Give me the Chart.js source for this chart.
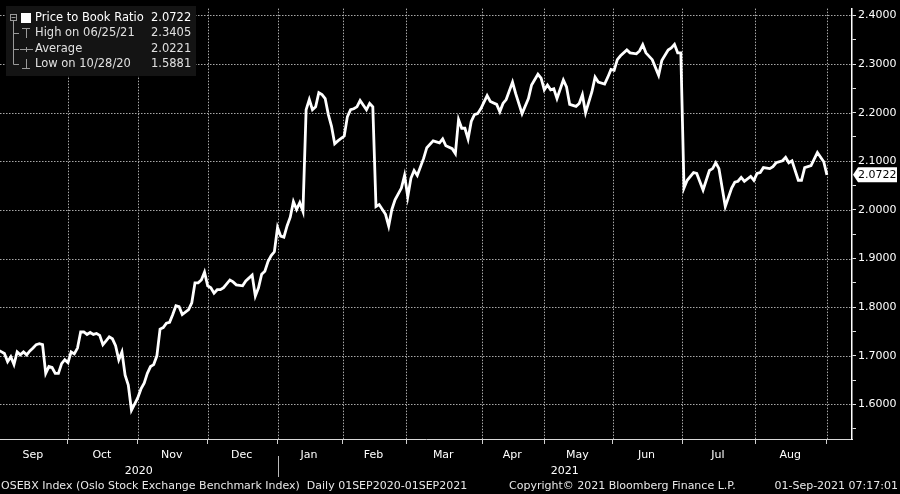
<!DOCTYPE html>
<html>
<head>
<meta charset="utf-8">
<script src="https://cdn.jsdelivr.net/npm/chart.js@4.4.1/dist/chart.umd.min.js"></script>
<style>
  html, body { margin: 0; padding: 0; background: #000; }
  #wrap { width: 900px; height: 494px; position: relative; }
</style>
</head>
<body>
<div id="wrap"><canvas id="pbChart"></canvas></div>
<script>
// trading-day index counted from 01 Sep 2020, and the OSEBX price to book ratio on that day
const tradingDay = [
  0, 2, 3, 4, 5, 6, 7, 8, 9, 10, 11, 12, 13, 14, 15, 16, 17, 18, 19, 20,
  21, 22, 23, 24, 25, 26, 27, 28, 29, 30, 31, 32, 33, 34, 35, 36, 37, 38, 39, 40,
  41, 42, 44, 45, 46, 47, 48, 49, 50, 51, 52, 53, 54, 55, 56, 57, 58, 60, 61, 62,
  63, 64, 65, 66, 67, 68, 69, 70, 71, 73, 74, 75, 77, 78, 80, 81, 82, 83, 84, 85,
  86, 87, 88, 89, 90, 91, 92, 93, 94, 95, 96, 97, 98, 99, 100, 101, 102, 103, 104, 105,
  106, 107, 109, 110, 111, 112, 113, 114, 116, 117, 118, 119, 120, 122, 123, 124, 125, 127, 128, 129,
  130, 131, 132, 134, 135, 137, 139, 140, 141, 143, 144, 145, 146, 147, 148, 149, 150, 151, 152, 154,
  155, 157, 158, 159, 160, 162, 163, 165, 167, 168, 170, 171, 172, 173, 174, 175, 176, 178, 179, 180,
  182, 183, 184, 185, 187, 188, 189, 191, 192, 193, 194, 195, 196, 198, 199, 201, 202, 203, 204, 206,
  208, 209, 211, 212, 213, 214, 215, 216, 217, 219, 220, 222, 224, 225, 226, 227, 229, 231, 232, 233,
  234, 235, 237, 238, 239, 240, 241, 243, 244, 245, 247, 248, 249, 250, 252, 253, 254, 256, 258, 260,
  261
];
const priceToBook = [
  1.712, 1.705, 1.688, 1.698, 1.682, 1.708, 1.702, 1.708, 1.702, 1.710, 1.716, 1.723, 1.725, 1.723, 1.664, 1.678, 1.676, 1.664, 1.664, 1.684,
  1.692, 1.686, 1.708, 1.704, 1.716, 1.749, 1.749, 1.744, 1.748, 1.744, 1.746, 1.742, 1.723, 1.731, 1.739, 1.735, 1.721, 1.692, 1.708, 1.660,
  1.640, 1.5881, 1.614, 1.632, 1.644, 1.664, 1.678, 1.682, 1.700, 1.755, 1.758, 1.767, 1.769, 1.785, 1.803, 1.801, 1.785, 1.795, 1.809, 1.850,
  1.850, 1.856, 1.872, 1.844, 1.840, 1.829, 1.836, 1.836, 1.840, 1.856, 1.852, 1.846, 1.844, 1.854, 1.866, 1.823, 1.840, 1.868, 1.874, 1.894,
  1.906, 1.914, 1.964, 1.946, 1.944, 1.967, 1.985, 2.017, 2.001, 2.015, 1.997, 2.206, 2.227, 2.206, 2.212, 2.241, 2.237, 2.229, 2.196, 2.172,
  2.136, 2.142, 2.152, 2.192, 2.206, 2.208, 2.212, 2.225, 2.206, 2.219, 2.212, 2.007, 2.011, 1.991, 1.967, 2.001, 2.021, 2.045, 2.071, 2.027,
  2.065, 2.081, 2.071, 2.106, 2.128, 2.142, 2.138, 2.146, 2.132, 2.126, 2.116, 2.186, 2.168, 2.168, 2.146, 2.182, 2.196, 2.198, 2.208, 2.235,
  2.223, 2.217, 2.202, 2.219, 2.227, 2.263, 2.239, 2.198, 2.229, 2.257, 2.279, 2.271, 2.247, 2.257, 2.247, 2.249, 2.229, 2.267, 2.253, 2.217,
  2.213, 2.219, 2.237, 2.200, 2.243, 2.273, 2.263, 2.259, 2.273, 2.289, 2.287, 2.309, 2.317, 2.329, 2.323, 2.321, 2.327, 2.340, 2.323, 2.309,
  2.277, 2.307, 2.329, 2.333, 2.3405, 2.323, 2.323, 2.045, 2.061, 2.077, 2.075, 2.041, 2.081, 2.085, 2.097, 2.085, 2.007, 2.045, 2.057, 2.059,
  2.067, 2.059, 2.069, 2.061, 2.075, 2.077, 2.087, 2.085, 2.089, 2.097, 2.101, 2.108, 2.097, 2.101, 2.061, 2.061, 2.087, 2.091, 2.118, 2.099,
  2.0722
];

// month boundaries (trading-day index) and month names for the x axis
const monthStarts = [22, 44, 66, 88, 108.5, 128.5, 152.5, 172, 193.5, 215.5, 238.5, 261];
const monthNames = ["Sep", "Oct", "Nov", "Dec", "Jan", "Feb", "Mar", "Apr", "May", "Jun", "Jul", "Aug"];
const years = ["2020", "2021"];
const yearStart = 88;

// right axis ticks (majors are labelled)
const yTicks = [1.55, 1.60, 1.65, 1.70, 1.75, 1.80, 1.85, 1.90, 1.95, 2.00,
                2.05, 2.10, 2.15, 2.20, 2.25, 2.30, 2.35, 2.40];

const legendRows = [
  ["Price to Book Ratio", "2.0722"],
  ["High on 06/25/21", "2.3405"],
  ["Average", "2.0221"],
  ["Low on 10/28/20", "1.5881"]
];
const lastValue = 2.0722;

const footerLeft = "OSEBX Index (Oslo Stock Exchange Benchmark Index)  Daily 01SEP2020-01SEP2021";
const footerMid = "Copyright\u00a9 2021 Bloomberg Finance L.P.";
const footerRight = "01-Sep-2021 07:17:01";

const isMajor = v => Math.abs(v * 10 - Math.round(v * 10)) < 1e-6;

// dotted Bloomberg-style grid, placed from the scales' own ticks
const dottedGrid = {
  id: "dottedGrid",
  beforeDatasetsDraw(chart) {
    const { ctx, chartArea: a, scales: { x, y } } = chart;
    ctx.save();
    ctx.fillStyle = "#a8a8a8";
    y.ticks.forEach(t => {
      if (!isMajor(t.value)) return;
      const py = Math.round(y.getPixelForValue(t.value));
      for (let px = a.left; px < a.right; px += 3) ctx.fillRect(px, py, 1.5, 1);
    });
    x.ticks.forEach(t => {
      const px = Math.round(x.getPixelForValue(t.value));
      for (let py = a.top; py < a.bottom; py += 3) ctx.fillRect(px, py, 1, 1.5);
    });
    ctx.restore();
  }
};

const decor = {
  id: "bbgDecor",
  afterDraw(chart) {
    const { ctx, scales: { x, y } } = chart;
    ctx.save();

    // month labels centred in each month
    ctx.font = '11px "DejaVu Sans"';
    ctx.fillStyle = "#fff";
    ctx.textAlign = "center";
    ctx.textBaseline = "middle";
    monthNames.forEach((m, i) => {
      const a = i === 0 ? x.min : monthStarts[i - 1];
      const b = monthStarts[i];
      ctx.fillText(m, x.getPixelForValue((a + b) / 2) - 1, 455);
    });

    // years + separator
    const sep = x.getPixelForValue(yearStart);
    ctx.fillText(years[0], (x.left + sep) / 2, 471);
    ctx.fillText(years[1], (sep + x.right) / 2, 471);
    ctx.strokeStyle = "#bbb";
    ctx.lineWidth = 1;
    ctx.beginPath();
    ctx.moveTo(Math.round(sep) + 0.5, 456);
    ctx.lineTo(Math.round(sep) + 0.5, 477);
    ctx.stroke();

    // footer
    ctx.font = '11px "DejaVu Sans"';
    ctx.fillStyle = "#e8e8e8";
    ctx.textAlign = "left";
    ctx.fillText(footerLeft, 1, 486);
    ctx.fillText(footerMid, 509, 486);
    ctx.textAlign = "right";
    ctx.fillText(footerRight, 898, 486);

    // legend box
    ctx.fillStyle = "#141414";
    ctx.fillRect(6, 6, 190, 70);
    const rowY = [18, 33, 49, 64];
    ctx.strokeStyle = "#9a9a9a";
    ctx.lineWidth = 1;
    ctx.strokeRect(10.5, 14.5, 6, 6);
    ctx.beginPath();
    ctx.moveTo(11.5, 17.5); ctx.lineTo(15.5, 17.5);
    ctx.moveTo(13.5, 21); ctx.lineTo(13.5, rowY[3] + 0.5);
    for (let i = 1; i < 4; i++) {
      ctx.moveTo(13.5, rowY[i] + 0.5); ctx.lineTo(19, rowY[i] + 0.5);
    }
    // high icon
    ctx.moveTo(22, rowY[1] - 4.5); ctx.lineTo(30, rowY[1] - 4.5);
    ctx.moveTo(26.5, rowY[1] - 4.5); ctx.lineTo(26.5, rowY[1] + 5);
    // average icon
    ctx.moveTo(20, rowY[2] + 0.5); ctx.lineTo(33, rowY[2] + 0.5);
    ctx.moveTo(26.5, rowY[2] - 2); ctx.lineTo(26.5, rowY[2] + 3);
    // low icon
    ctx.moveTo(26.5, rowY[3] - 5); ctx.lineTo(26.5, rowY[3] + 4.5);
    ctx.moveTo(22, rowY[3] + 4.5); ctx.lineTo(30, rowY[3] + 4.5);
    ctx.stroke();
    ctx.fillStyle = "#fff";
    ctx.fillRect(21, 13, 10, 10);

    ctx.font = '11.5px "DejaVu Sans"';
    ctx.textAlign = "left";
    legendRows.forEach((r, i) => {
      ctx.fillStyle = i === 0 ? "#fff" : "#e0e0e0";
      ctx.fillText(r[0], 35, rowY[i]);
      ctx.fillText(r[1], 151, rowY[i]);
    });

    // last value tag on the right axis
    const ty = y.getPixelForValue(lastValue);
    const tx = y.left;
    ctx.fillStyle = "#fff";
    ctx.beginPath();
    ctx.moveTo(tx + 1, ty);
    ctx.lineTo(tx + 6, ty - 7.5);
    ctx.lineTo(897, ty - 7.5);
    ctx.lineTo(897, ty + 7.5);
    ctx.lineTo(tx + 6, ty + 7.5);
    ctx.closePath();
    ctx.fill();
    ctx.fillStyle = "#000";
    ctx.font = '11px "DejaVu Sans"';
    ctx.textAlign = "left";
    ctx.fillText(lastValue.toFixed(4), tx + 6, ty + 0.5);

    ctx.restore();
  }
};

new Chart(document.getElementById("pbChart"), {
  type: "line",
  data: {
    datasets: [{
      label: "Price to Book Ratio",
      data: tradingDay.map((d, i) => ({ x: d, y: priceToBook[i] })),
      borderColor: "#ffffff",
      borderWidth: 2.8,
      pointRadius: 0,
      tension: 0,
      fill: false
    }]
  },
  options: {
    responsive: true,
    maintainAspectRatio: false,
    animation: false,
    events: [],
    layout: { padding: 0 },
    plugins: {
      legend: { display: false },
      tooltip: { enabled: false }
    },
    scales: {
      x: {
        type: "linear",
        min: 0.6,
        max: 268.9,
        afterBuildTicks: s => { s.ticks = monthStarts.map(v => ({ value: v })); },
        afterFit: s => { s.height = 55; },
        ticks: { callback: () => "", autoSkip: false },
        grid: { drawOnChartArea: false, color: "#d0d0d0", tickLength: 5, tickColor: "#d0d0d0" },
        border: { display: true, color: "#d8d8d8", width: 1 }
      },
      y: {
        position: "right",
        min: 1.529,
        max: 2.414,
        afterBuildTicks: s => { s.ticks = yTicks.map(v => ({ value: v })); },
        afterFit: s => { s.width = 48; },
        ticks: {
          autoSkip: false,
          color: "#ffffff",
          padding: 2,
          font: { family: "DejaVu Sans", size: 11 },
          callback: v => isMajor(v) ? v.toFixed(4) : ""
        },
        grid: { drawOnChartArea: false, color: "#e0e0e0", tickLength: 4, tickColor: "#e0e0e0" },
        border: { display: true, color: "#ffffff", width: 1.5 }
      }
    }
  },
  plugins: [dottedGrid, decor]
});
</script>
</body>
</html>
